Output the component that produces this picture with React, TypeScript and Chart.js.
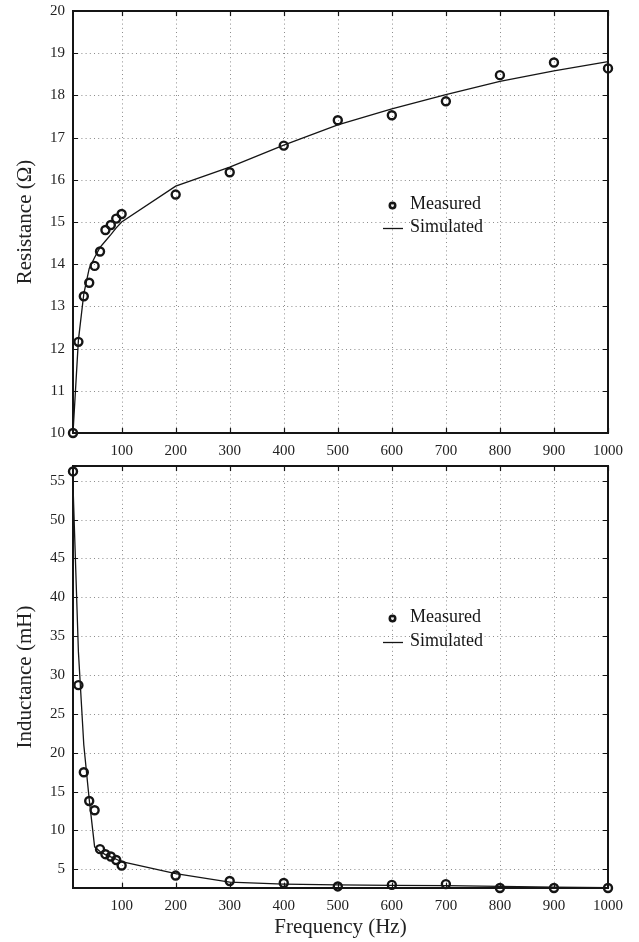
import React, { useEffect, useRef } from "react";
import { Chart, registerables } from "chart.js";
Chart.register(...registerables);

const FONT = "'Liberation Serif', 'Times New Roman', serif";
Chart.defaults.font.family = FONT;

// ---- data ----
const frequencies = [10, 20, 30, 40, 50, 60, 70, 80, 90, 100, 200, 300, 400, 500, 600, 700, 800, 900, 1000];
const resistanceMeasured = [10.0, 12.16, 13.24, 13.56, 13.96, 14.3, 14.81, 14.93, 15.08, 15.19, 15.65, 16.18, 16.81, 17.41, 17.53, 17.86, 18.48, 18.78, 18.64];
const resistanceSimulated = [10.0, 12.2, 13.3, 13.9, 14.16, 14.4, 14.55, 14.7, 14.86, 15.0, 15.85, 16.3, 16.82, 17.3, 17.68, 18.02, 18.33, 18.58, 18.8];
const inductanceMeasured = [56.2, 28.7, 17.5, 13.8, 12.6, 7.6, 6.95, 6.65, 6.2, 5.5, 4.2, 3.5, 3.25, 2.8, 3.0, 3.1, 2.6, 2.6, 2.6];
const inductanceSimulated = [54.5, 33.0, 21.0, 14.0, 7.9, 7.3, 6.9, 6.6, 6.3, 6.0, 4.45, 3.35, 3.1, 3.0, 2.95, 2.9, 2.8, 2.7, 2.65];

const xTicks = [100, 200, 300, 400, 500, 600, 700, 800, 900, 1000];
const resistanceTicks = [10, 11, 12, 13, 14, 15, 16, 17, 18, 19, 20];
const inductanceTicks = [5, 10, 15, 20, 25, 30, 35, 40, 45, 50, 55];

const xLabel = "Frequency (Hz)";
const resistanceLabel = "Resistance (Ω)";
const inductanceLabel = "Inductance (mH)";
const legendLabels = ["Measured", "Simulated"];

const INK = "#151515";

const framePlugin = {
  id: "frame",
  beforeDatasetsDraw(chart: any) {
    const { ctx, chartArea: a, scales } = chart;
    const xs = scales.x;
    const ys = scales.y;
    ctx.save();
    // dotted grid
    ctx.strokeStyle = "#8c8c8c";
    ctx.lineWidth = 1;
    ctx.setLineDash([1, 3.2]);
    xs.ticks.forEach((t: any) => {
      const px = Math.round(xs.getPixelForValue(t.value)) + 0.5;
      if (px > a.left + 3 && px < a.right - 3) {
        ctx.beginPath();
        ctx.moveTo(px, a.top);
        ctx.lineTo(px, a.bottom);
        ctx.stroke();
      }
    });
    ys.ticks.forEach((t: any) => {
      const py = Math.round(ys.getPixelForValue(t.value)) + 0.5;
      if (py > a.top + 3 && py < a.bottom - 3) {
        ctx.beginPath();
        ctx.moveTo(a.left, py);
        ctx.lineTo(a.right, py);
        ctx.stroke();
      }
    });
    ctx.setLineDash([]);
    // inward tick marks
    ctx.strokeStyle = INK;
    ctx.lineWidth = 1.2;
    const L = 5;
    xs.ticks.forEach((t: any) => {
      const px = Math.round(xs.getPixelForValue(t.value)) + 0.5;
      ctx.beginPath();
      ctx.moveTo(px, a.top);
      ctx.lineTo(px, a.top + L);
      ctx.moveTo(px, a.bottom);
      ctx.lineTo(px, a.bottom - L);
      ctx.stroke();
    });
    ys.ticks.forEach((t: any) => {
      const py = Math.round(ys.getPixelForValue(t.value)) + 0.5;
      ctx.beginPath();
      ctx.moveTo(a.left, py);
      ctx.lineTo(a.left + L, py);
      ctx.moveTo(a.right, py);
      ctx.lineTo(a.right - L, py);
      ctx.stroke();
    });
    // box
    ctx.lineWidth = 2;
    ctx.strokeRect(a.left, a.top, a.right - a.left, a.bottom - a.top);
    ctx.restore();
  },
};

function makeLegendPlugin(markerY: number, lineY: number) {
  return {
    id: "plainLegend",
    afterDraw(chart: any) {
      const { ctx } = chart;
      ctx.save();
      ctx.strokeStyle = INK;
      ctx.lineWidth = 2.6;
      ctx.beginPath();
      ctx.arc(392.5, markerY + 1.5, 2.7, 0, Math.PI * 2);
      ctx.stroke();
      ctx.lineWidth = 1.3;
      ctx.beginPath();
      ctx.moveTo(383, lineY + 1.5);
      ctx.lineTo(403, lineY + 1.5);
      ctx.stroke();
      ctx.fillStyle = INK;
      ctx.font = `18px ${FONT}`;
      ctx.textBaseline = "middle";
      ctx.textAlign = "left";
      ctx.fillText(legendLabels[0], 410, markerY);
      ctx.fillText(legendLabels[1], 410, lineY);
      ctx.restore();
    },
  };
}

type PanelProps = {
  top: number;
  height: number;
  padTop: number;
  xAxisHeight: number;
  measured: number[];
  simulated: number[];
  yMin: number;
  yMax: number;
  yTicks: number[];
  yTitle: string;
  showXTitle: boolean;
  legendY: [number, number];
};

function Panel(p: PanelProps) {
  const ref = useRef<HTMLCanvasElement | null>(null);
  useEffect(() => {
    if (!ref.current) return;
    const chart = new Chart(ref.current, {
      type: "scatter",
      data: {
        datasets: [
          {
            label: legendLabels[0],
            data: frequencies.map((f, i) => ({ x: f, y: p.measured[i] })),
            showLine: false,
            pointRadius: 4,
            pointBorderWidth: 2.4,
            pointBorderColor: INK,
            pointBackgroundColor: "rgba(0,0,0,0)",
            clip: false,
          } as any,
          {
            label: legendLabels[1],
            data: frequencies.map((f, i) => ({ x: f, y: p.simulated[i] })),
            showLine: true,
            pointRadius: 0,
            borderWidth: 1.3,
            borderColor: INK,
            backgroundColor: INK,
            fill: false,
            tension: 0,
            clip: false,
          } as any,
        ],
      },
      options: {
        responsive: false,
        animation: false,
        events: [],
        layout: { autoPadding: false, padding: { top: p.padTop, right: 31, left: 0, bottom: 0 } } as any,
        plugins: { legend: { display: false }, tooltip: { enabled: false } },
        scales: {
          x: {
            type: "linear",
            min: 10,
            max: 1000,
            afterBuildTicks: (s: any) => {
              s.ticks = xTicks.map((v) => ({ value: v }));
            },
            afterFit: (s: any) => {
              s.height = p.xAxisHeight;
              s.paddingLeft = 0;
              s.paddingRight = 0;
            },
            grid: { display: false, drawTicks: false },
            border: { display: false },
            ticks: {
              padding: 9,
              color: "#222",
              font: { size: 15, family: FONT },
              maxRotation: 0,
              autoSkip: false,
              callback: (v: any) => String(v),
            },
            title: {
              display: p.showXTitle,
              text: xLabel,
              color: "#222",
              font: { size: 21, family: FONT },
              padding: { top: 0, bottom: 2 },
            },
          },
          y: {
            type: "linear",
            min: p.yMin,
            max: p.yMax,
            afterBuildTicks: (s: any) => {
              s.ticks = p.yTicks.map((v) => ({ value: v }));
            },
            afterFit: (s: any) => {
              s.width = 73;
              s.paddingTop = 0;
              s.paddingBottom = 0;
            },
            grid: { display: false, drawTicks: false },
            border: { display: false },
            ticks: {
              padding: 8,
              color: "#222",
              font: { size: 15, family: FONT },
              autoSkip: false,
              callback: (v: any) => String(v),
            },
            title: {
              display: true,
              text: p.yTitle,
              color: "#222",
              font: { size: 21, family: FONT },
              padding: { top: 13, bottom: 0 },
            },
          },
        },
      } as any,
      plugins: [framePlugin, makeLegendPlugin(p.legendY[0], p.legendY[1])],
    });
    return () => chart.destroy();
  }, []);
  return (
    <div style={{ position: "absolute", left: 0, top: p.top, width: 639, height: p.height }}>
      <canvas ref={ref} width={639} height={p.height} style={{ display: "block", width: 639, height: p.height }} />
    </div>
  );
}

export default function App() {
  return (
    <div style={{ position: "fixed", left: 0, top: 0, width: 639, height: 942, background: "#fff" }}>
      <Panel
        top={0}
        height={460}
        padTop={11}
        xAxisHeight={27}
        measured={resistanceMeasured}
        simulated={resistanceSimulated}
        yMin={10}
        yMax={20}
        yTicks={resistanceTicks}
        yTitle={resistanceLabel}
        showXTitle={false}
        legendY={[204, 227]}
      />
      <Panel
        top={460}
        height={482}
        padTop={6}
        xAxisHeight={54}
        measured={inductanceMeasured}
        simulated={inductanceSimulated}
        yMin={2.6}
        yMax={56.9}
        yTicks={inductanceTicks}
        yTitle={inductanceLabel}
        showXTitle={true}
        legendY={[157, 181]}
      />
    </div>
  );
}
